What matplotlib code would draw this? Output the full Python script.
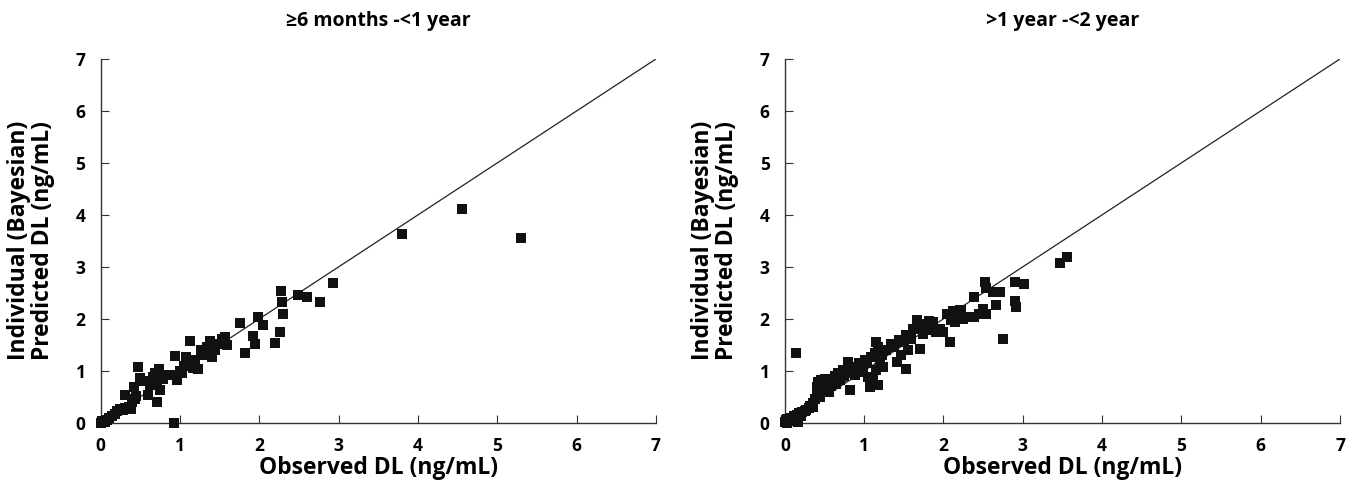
import matplotlib
matplotlib.use("Agg")
import matplotlib.pyplot as plt

plt.rcParams['font.family'] = ['Open Sans', 'DejaVu Sans']
W = 700
plt.rcParams['font.weight'] = W

titles = ["\u22656 months -<1 year", ">1 year -<2 year"]
xlabel = "Observed DL (ng/mL)"
ylabel = "Individual (Bayesian)\nPredicted DL (ng/mL)"
ticks = [0, 1, 2, 3, 4, 5, 6, 7]

left_obs = [0.00, 0.02, 0.05, 0.08, 0.10, 0.14, 0.18, 0.20, 0.24, 0.28, 0.31, 0.35, 0.38, 0.31,
            0.40, 0.43, 0.45, 0.42, 0.47, 0.50, 0.55, 0.60, 0.62, 0.66, 0.68, 0.73, 0.71, 0.75,
            0.71, 0.78, 0.80, 0.92, 0.87, 0.96, 0.94, 1.00, 1.02, 1.05, 1.08, 1.13, 1.16, 1.19,
            1.23, 1.13, 1.27, 1.30, 1.34, 1.38, 1.40, 1.44, 1.48, 1.53, 1.57, 1.59, 1.76, 1.82,
            1.92, 1.94, 1.98, 2.05, 2.20, 2.26, 2.27, 2.28, 2.30, 2.49, 2.60, 2.77, 2.93, 3.80,
            4.55, 5.30]
left_pred = [0.00, 0.03, 0.02, 0.06, 0.10, 0.12, 0.17, 0.22, 0.26, 0.25, 0.28, 0.30, 0.26, 0.53,
             0.40, 0.46, 0.52, 0.69, 1.07, 0.86, 0.80, 0.53, 0.72, 0.88, 0.95, 1.04, 0.75, 0.63,
             0.40, 0.85, 0.92, 0.00, 0.91, 0.82, 1.28, 1.00, 0.96, 1.10, 1.27, 1.14, 1.05, 1.20,
             1.04, 1.57, 1.39, 1.30, 1.46, 1.58, 1.27, 1.39, 1.52, 1.62, 1.65, 1.49, 1.92, 1.34,
             1.66, 1.52, 2.03, 1.89, 1.53, 1.74, 2.54, 2.32, 2.10, 2.46, 2.42, 2.32, 2.68, 3.63,
             4.11, 3.56]

right_obs = [0.00, 0.01, 0.02, 0.03, 0.05, 0.06, 0.08, 0.10, 0.12, 0.14, 0.15, 0.17, 0.18, 0.20,
             0.22, 0.25, 0.27, 0.30, 0.32, 0.35, 0.36, 0.38, 0.40, 0.40, 0.42, 0.44, 0.45, 0.48,
             0.48, 0.50, 0.52, 0.53, 0.55, 0.57, 0.58, 0.61, 0.63, 0.65, 0.67, 0.70, 0.71, 0.73,
             0.75, 0.78, 0.80, 0.82, 0.84, 0.86, 0.88, 0.90, 0.92, 0.94, 0.96, 0.99, 1.01, 1.03,
             1.05, 1.07, 1.09, 1.11, 1.13, 1.15, 1.15, 1.17, 1.18, 1.20, 1.22, 1.24, 1.28, 1.34,
             1.38, 1.41, 1.44, 1.47, 1.50, 1.53, 1.53, 1.55, 1.59, 1.62, 1.66, 1.68, 1.70, 1.72,
             1.74, 1.78, 1.82, 1.85, 1.87, 1.91, 1.95, 1.99, 2.04, 2.08, 2.10, 2.12, 2.14, 2.18,
             2.22, 2.25, 2.29, 2.39, 2.39, 2.45, 2.50, 2.52, 2.54, 2.54, 2.62, 2.66, 2.71, 2.75,
             2.90, 2.90, 2.92, 3.02, 3.47, 3.56, 0.14, 1.79, 2.21, 0.42, 0.46, 0.55]
right_pred = [0.02, 0.05, 0.00, 0.08, 0.03, 0.06, 0.10, 0.05, 0.12, 0.08, 0.15, 0.02, 0.18, 0.12,
              0.20, 0.22, 0.25, 0.28, 0.33, 0.30, 0.37, 0.45, 0.55, 0.69, 0.60, 0.50, 0.72, 0.63,
              0.80, 0.85, 0.75, 0.68, 0.78, 0.82, 0.70, 0.79, 0.90, 0.75, 0.95, 0.82, 0.88, 1.01,
              0.90, 0.95, 1.17, 0.63, 1.05, 1.01, 0.92, 1.07, 0.98, 1.14, 1.05, 0.98, 1.20, 1.14,
              0.88, 0.69, 1.27, 0.88, 1.35, 1.01, 1.55, 0.72, 1.45, 1.14, 1.30, 1.07, 1.39, 1.52,
              1.45, 1.17, 1.60, 1.30, 1.55, 1.68, 1.04, 1.39, 1.62, 1.80, 1.97, 1.85, 1.42, 1.90,
              1.71, 1.87, 1.95, 1.78, 1.94, 1.74, 1.81, 1.74, 2.10, 1.55, 1.97, 2.15, 1.94, 2.06,
              2.16, 2.00, 2.03, 2.42, 2.03, 2.10, 2.19, 2.70, 2.10, 2.60, 2.51, 2.26, 2.51, 1.62,
              2.70, 2.35, 2.22, 2.67, 3.08, 3.19, 1.34, 1.90, 2.16, 0.78, 0.82, 0.60]

identity = [0, 7]

fig = plt.figure(figsize=(13.58, 4.9), dpi=100)
axes_pos = [[0.0742, 0.1373, 0.4088, 0.7423], [0.578, 0.1373, 0.4087, 0.7423]]
datasets = [(left_obs, left_pred), (right_obs, right_pred)]

for pos, (xs, ys), title in zip(axes_pos, datasets, titles):
    ax = fig.add_axes(pos)
    ax.plot(identity, identity, color='#222222', lw=0.9, zorder=1)
    ax.scatter(xs, ys, marker='s', s=58, color='#111111', linewidths=0, zorder=3, clip_on=False)
    ax.set_xlim(0, 7)
    ax.set_ylim(0, 7)
    ax.set_xticks(ticks)
    ax.set_yticks(ticks)
    ax.tick_params(direction='in', length=6, width=0.8, labelsize=12.5, color='#333333')
    ax.tick_params(axis='y', pad=11)
    ax.tick_params(axis='x', pad=10)
    for lab in ax.get_xticklabels() + ax.get_yticklabels():
        lab.set_fontweight(W)
    for s in ['top', 'right']:
        ax.spines[s].set_visible(False)
    for s in ['left', 'bottom']:
        ax.spines[s].set_linewidth(1.0)
        ax.spines[s].set_color('#333333')
    ax.set_title(title, fontsize=14, fontweight=W, pad=24)
    ax.set_xlabel(xlabel, fontsize=16.5, fontweight=W, labelpad=1)
    ax.set_ylabel(ylabel, fontsize=16.5, fontweight=W, labelpad=15, linespacing=1.0)

fig.savefig('out.png', dpi=100)
